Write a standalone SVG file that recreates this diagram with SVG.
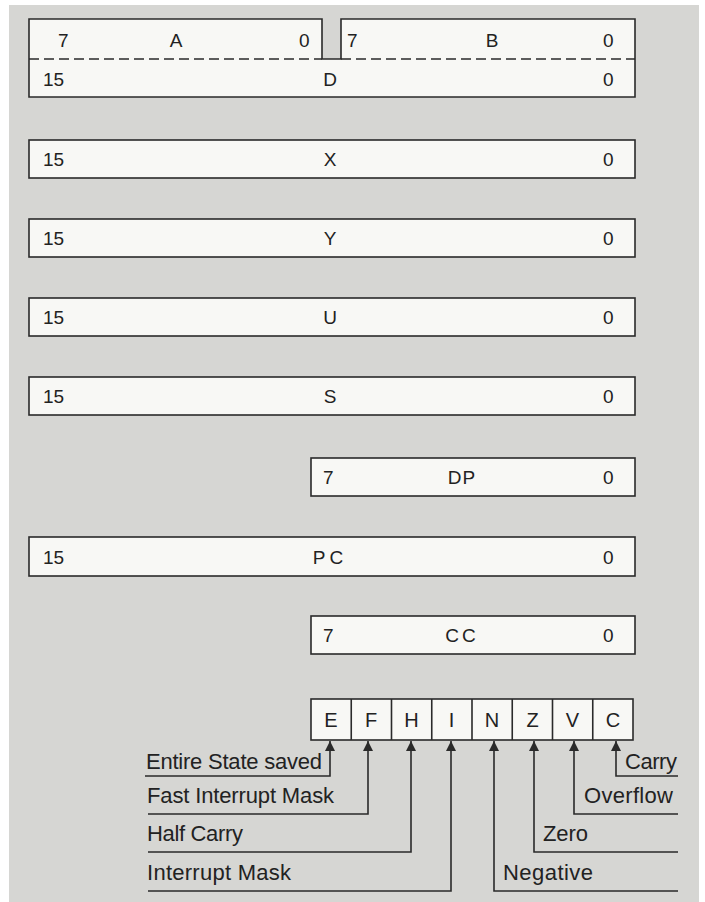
<svg xmlns="http://www.w3.org/2000/svg" width="705" height="902" viewBox="0 0 705 902">
<style>
.bg{fill:#d6d6d3}
.box{fill:#f8f8f5;stroke:#2a2a2a;stroke-width:1.6}
.ln{fill:none;stroke:#2a2a2a;stroke-width:1.6}
.dash{fill:none;stroke:#2a2a2a;stroke-width:1.4;stroke-dasharray:10 5}
.t{font-family:"Liberation Sans",Arial,sans-serif;font-size:19px;fill:#222}
.m{text-anchor:middle}
.f{font-family:"Liberation Sans",Arial,sans-serif;font-size:20px;fill:#222;text-anchor:middle}
.l{font-family:"Liberation Sans",Arial,sans-serif;font-size:22px;fill:#222}
</style>
<defs>
<marker id="ah" viewBox="0 0 10 10" refX="10" refY="5" markerWidth="11" markerHeight="10" markerUnits="userSpaceOnUse" orient="auto-start-reverse">
<path d="M0,0 L10,5 L0,10 Z" fill="#2a2a2a"/>
</marker>
</defs>
<rect class="bg" x="9" y="5" width="690" height="897"/>

<g id="reg-ABD">
<path d="M29,19 H322 V59 H341 V19 H635 V97 H29 Z" fill="#f8f8f5"/>
<path class="ln" d="M29,59 V19 H322 V59 H341 V19 H635 V59"/>
<path class="ln" d="M29,59 V97 H635 V59"/>
<path class="dash" d="M29,59 H322"/>
<path class="dash" d="M341,59 H635"/>
<text class="t" x="58" y="47">7</text>
<text class="t m" x="176" y="47">A</text>
<text class="t" x="299" y="47">0</text>
<text class="t" x="347" y="47">7</text>
<text class="t m" x="492" y="47">B</text>
<text class="t" x="603" y="47">0</text>
<text class="t" x="43" y="86">15</text>
<text class="t m" x="330" y="86">D</text>
<text class="t" x="603" y="86">0</text>
</g>

<g id="reg-X">
<rect class="box" x="29" y="140" width="606" height="38"/>
<text class="t" x="43" y="166">15</text>
<text class="t m" x="330" y="166">X</text>
<text class="t" x="603" y="166">0</text>
</g>
<g id="reg-Y">
<rect class="box" x="29" y="219" width="606" height="38"/>
<text class="t" x="43" y="245">15</text>
<text class="t m" x="330" y="245">Y</text>
<text class="t" x="603" y="245">0</text>
</g>
<g id="reg-U">
<rect class="box" x="29" y="298" width="606" height="38"/>
<text class="t" x="43" y="324">15</text>
<text class="t m" x="330" y="324">U</text>
<text class="t" x="603" y="324">0</text>
</g>
<g id="reg-S">
<rect class="box" x="29" y="377" width="606" height="38"/>
<text class="t" x="43" y="403">15</text>
<text class="t m" x="330" y="403">S</text>
<text class="t" x="603" y="403">0</text>
</g>
<g id="reg-DP">
<rect class="box" x="311" y="458" width="324" height="38"/>
<text class="t" x="323" y="484">7</text>
<text class="t m" x="462" y="484" letter-spacing="1">DP</text>
<text class="t" x="603" y="484">0</text>
</g>
<g id="reg-PC">
<rect class="box" x="29" y="537" width="606" height="39"/>
<text class="t" x="43" y="564">15</text>
<text class="t m" x="330" y="564" letter-spacing="4">PC</text>
<text class="t" x="603" y="564">0</text>
</g>
<g id="reg-CC">
<rect class="box" x="311" y="616" width="324" height="38"/>
<text class="t" x="323" y="642">7</text>
<text class="t m" x="462" y="642" letter-spacing="3">CC</text>
<text class="t" x="603" y="642">0</text>
</g>

<g id="flags">
<rect class="box" x="311" y="699" width="322" height="41"/>
<path class="ln" d="M351.25,699 V740 M391.5,699 V740 M431.75,699 V740 M472,699 V740 M512.25,699 V740 M552.5,699 V740 M592.75,699 V740"/>
<text class="f" x="331" y="727">E</text>
<text class="f" x="371" y="727">F</text>
<text class="f" x="411.5" y="727">H</text>
<text class="f" x="451.5" y="727">I</text>
<text class="f" x="492" y="727">N</text>
<text class="f" x="532.5" y="727">Z</text>
<text class="f" x="572.5" y="727">V</text>
<text class="f" x="613" y="727">C</text>
</g>

<g id="connectors">
<path class="ln" marker-start="url(#ah)" d="M330,741 V776 H145"/>
<path class="ln" marker-start="url(#ah)" d="M368,741 V814 H148"/>
<path class="ln" marker-start="url(#ah)" d="M411,741 V852 H148"/>
<path class="ln" marker-start="url(#ah)" d="M451,741 V891 H148"/>
<path class="ln" marker-start="url(#ah)" d="M494,741 V891 H678"/>
<path class="ln" marker-start="url(#ah)" d="M534,741 V852 H678"/>
<path class="ln" marker-start="url(#ah)" d="M574,741 V814 H678"/>
<path class="ln" marker-start="url(#ah)" d="M616,741 V776 H678"/>
</g>

<g id="labels">
<text class="l" x="146" y="769" textLength="176" lengthAdjust="spacing">Entire State saved</text>
<text class="l" x="147" y="803" textLength="187" lengthAdjust="spacing">Fast Interrupt Mask</text>
<text class="l" x="147" y="841" textLength="96" lengthAdjust="spacing">Half Carry</text>
<text class="l" x="147" y="880" textLength="144" lengthAdjust="spacing">Interrupt Mask</text>
<text class="l" x="625" y="769" textLength="52" lengthAdjust="spacing">Carry</text>
<text class="l" x="584" y="803" textLength="89" lengthAdjust="spacing">Overflow</text>
<text class="l" x="543" y="841" textLength="45" lengthAdjust="spacing">Zero</text>
<text class="l" x="503" y="880" textLength="90" lengthAdjust="spacing">Negative</text>
</g>
</svg>
